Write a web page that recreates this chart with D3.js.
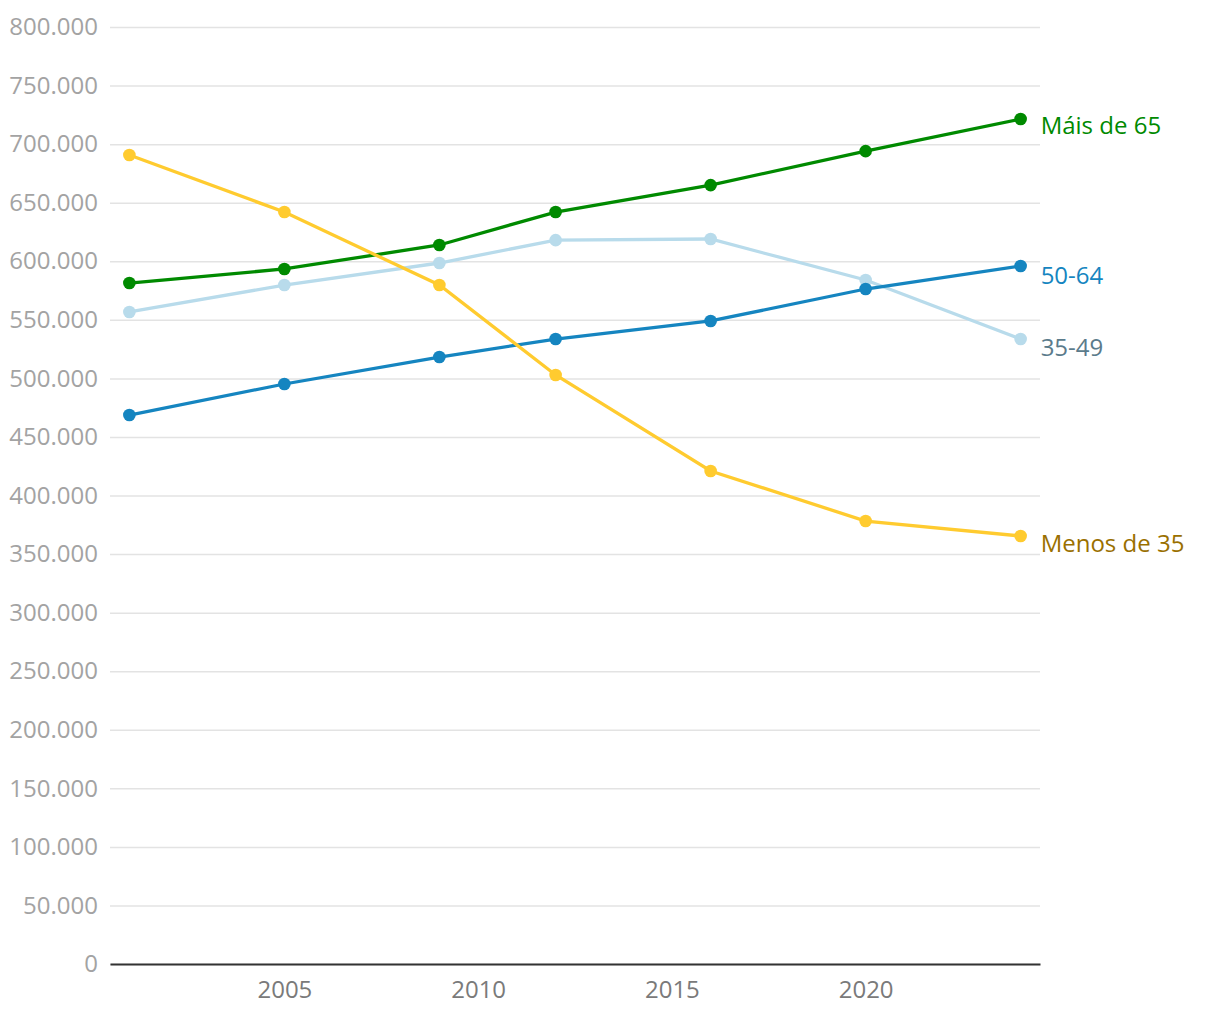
<!DOCTYPE html>
<html>
<head>
<meta charset="utf-8">
<script src="https://cdn.jsdelivr.net/npm/d3@7"></script>
<style>
  body { margin: 0; background: #fff; }
  svg text { font-family: "Open Sans", "Noto Sans", sans-serif; }
</style>
</head>
<body>
<svg id="chart" width="1220" height="1020"></svg>
<script>
var years = [2001, 2005, 2009, 2012, 2016, 2020, 2024];

// values, in persons
var menos35 = [690700, 642000, 579700, 502900, 420900, 378200, 365400];
var de35a49 = [556700, 579700, 598500, 618000, 619000, 584000, 533600];
var de50a64 = [468700, 495200, 518200, 533600, 549000, 576300, 596000];
var mais65 = [581400, 593400, 613900, 642000, 665000, 694000, 721400];

var xTicks = [2005, 2010, 2015, 2020];
var yTicks = d3.range(0, 800001, 50000);

// drawing order: last one on top
var series = [
  { name: '35-49', values: de35a49, color: '#b8dbeb', labelColor: '#5b7b8b', dy: 9 },
  { name: '50-64', values: de50a64, color: '#1585c0', labelColor: '#1585c0', dy: 10 },
  { name: 'Máis de 65', values: mais65, color: '#008a00', labelColor: '#008a00', dy: 7 },
  { name: 'Menos de 35', values: menos35, color: '#ffcb2f', labelColor: '#9a7000', dy: 8 }
];

var svg = d3.select('#chart');
var margin = { left: 110, right: 180, top: 27, bottom: 56 };
var width = 1220 - margin.left - margin.right;
var height = 1020 - margin.top - margin.bottom;

var g = svg.append('g')
  .attr('transform', 'translate(' + margin.left + ',' + margin.top + ')');

var x = d3.scaleLinear().domain([2000.5, 2024.5]).range([0, width]);
var y = d3.scaleLinear().domain([0, 800000]).range([height, 0]);

var fmt = function (v) {
  return d3.format(',')(v).replace(/,/g, '.');
};

// y grid + labels
var yAxis = g.append('g')
  .call(d3.axisLeft(y).tickValues(yTicks).tickSize(-width).tickFormat(fmt));
yAxis.select('.domain').remove();
yAxis.selectAll('.tick line').attr('stroke', '#e3e3e3').attr('stroke-width', 1.5);
yAxis.selectAll('.tick text')
  .attr('x', -12)
  .attr('fill', '#a3a3a3')
  .style('font-size', '24px');

// x axis
var xAxis = g.append('g')
  .attr('transform', 'translate(0,' + height + ')')
  .call(d3.axisBottom(x).tickValues(xTicks).tickSize(0).tickFormat(d3.format('d')));
xAxis.select('.domain').attr('stroke', '#333').attr('stroke-width', 2);
xAxis.selectAll('.tick text')
  .attr('y', 17)
  .attr('fill', '#7a7a7a')
  .style('font-size', '24px');

var line = d3.line()
  .x(function (d, i) { return x(years[i]); })
  .y(function (d) { return y(d); });

var sg = g.selectAll('.series')
  .data(series)
  .enter()
  .append('g')
  .attr('class', 'series');

sg.append('path')
  .attr('d', function (s) { return line(s.values); })
  .attr('fill', 'none')
  .attr('stroke', function (s) { return s.color; })
  .attr('stroke-width', 3.3);

sg.selectAll('circle')
  .data(function (s) { return s.values.map(function (v, i) { return { v: v, i: i, c: s.color }; }); })
  .enter()
  .append('circle')
  .attr('cx', function (d) { return x(years[d.i]); })
  .attr('cy', function (d) { return y(d.v); })
  .attr('r', 6.3)
  .attr('fill', function (d) { return d.c; });

// end labels
sg.append('text')
  .attr('x', x(2024) + 20)
  .attr('y', function (s) { return y(s.values[s.values.length - 1]) + s.dy; })
  .attr('dy', '0.35em')
  .attr('fill', function (s) { return s.labelColor; })
  .style('font-size', '24px')
  .text(function (s) { return s.name; });
</script>
</body>
</html>
